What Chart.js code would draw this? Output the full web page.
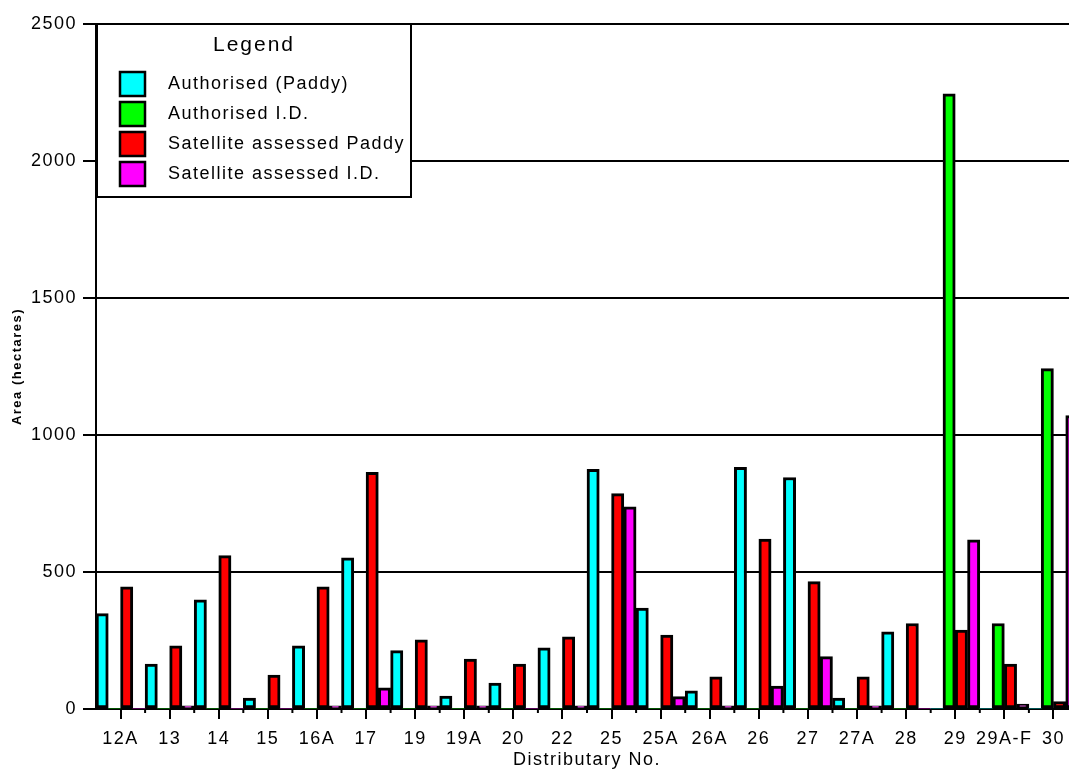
<!DOCTYPE html>
<html>
<head>
    <title>Area by distributary</title>
    <script src="https://cdn.jsdelivr.net/npm/chart.js"></script>
    <style>
        html, body { margin: 0; padding: 0; overflow: hidden; background: #fff; }
        #wrap { width: 1080px; height: 771px; }
    </style>
</head>
<body>
    <div id="wrap"><canvas id="areaChart"></canvas></div>

    <script>
        // Distributary numbers along the x axis
        const distributaries = ['12A', '13', '14', '15', '16A', '17', '19', '19A', '20', '22',
                                '25', '25A', '26A', '26', '27', '27A', '28', '29', '29A-F', '30'];

        // Areas in hectares
        const authorisedPaddy = [348, 164, 398, 40, 231, 552, 213, 47, 95, 223,
                                 875, 368, 66, 882, 845, 40, 282, 0, 0, 0];
        const authorisedID    = [0, 0, 0, 0, 0, 0, 0, 0, 0, 0,
                                 0, 0, 0, 0, 0, 0, 0, 2245, 312, 1242];
        const satellitePaddy  = [446, 231, 560, 124, 446, 864, 252, 182, 164, 263,
                                 786, 270, 117, 620, 465, 117, 312, 288, 164, 27];
        const satelliteID     = [0, 12, 0, 0, 12, 77, 12, 12, 0, 12,
                                 738, 45, 12, 84, 191, 12, 0, 617, 18, 1071];

        const yTicks = [0, 500, 1000, 1500, 2000, 2500];

        const fontFamily = '"Liberation Sans", Arial, sans-serif';

        // wider letter spacing, like the old chart renderer
        const spacingPlugin = {
            id: 'spacing',
            beforeDraw(chart) {
                chart.ctx.letterSpacing = '1.5px';
            }
        };

        // short ticks on the category boundaries
        const minorTicks = {
            id: 'minorTicks',
            afterDraw(chart) {
                const xs = chart.scales.x;
                const ctx = chart.ctx;
                ctx.save();
                ctx.strokeStyle = '#000';
                ctx.lineWidth = 2;
                for (let i = 1; i < distributaries.length; i++) {
                    const bx = (xs.getPixelForValue(i - 1) + xs.getPixelForValue(i)) / 2;
                    ctx.beginPath();
                    ctx.moveTo(bx, xs.top);
                    ctx.lineTo(bx, xs.top + 4);
                    ctx.stroke();
                }
                ctx.restore();
            }
        };

        // boxed legend sitting over the grid
        const legendBox = {
            id: 'legendBox',
            afterDraw(chart) {
                const ctx = chart.ctx;
                const left = chart.chartArea.left + 1;
                const top = chart.chartArea.top;
                ctx.save();
                ctx.fillStyle = '#fff';
                ctx.fillRect(left, top, 314, 173);
                ctx.strokeStyle = '#000';
                ctx.lineWidth = 2;
                ctx.strokeRect(left, top, 314, 173);

                ctx.letterSpacing = '2px';
                ctx.fillStyle = '#000';
                ctx.font = '21px ' + fontFamily;
                ctx.textAlign = 'center';
                ctx.textBaseline = 'alphabetic';
                ctx.fillText('Legend', left + 157, top + 27);

                ctx.letterSpacing = '1.5px';
                ctx.font = '18px ' + fontFamily;
                ctx.textAlign = 'left';
                chart.data.datasets.forEach((ds, i) => {
                    const rowTop = top + 48 + i * 30;
                    ctx.fillStyle = ds.backgroundColor;
                    ctx.fillRect(left + 23, rowTop, 25, 24);
                    ctx.lineWidth = 2.5;
                    ctx.strokeStyle = '#000';
                    ctx.strokeRect(left + 23, rowTop, 25, 24);
                    ctx.fillStyle = '#000';
                    ctx.fillText(ds.label, left + 71, rowTop + 17);
                });
                ctx.restore();
            }
        };

        function bars(label, data, colour) {
            return {
                label: label,
                data: data,
                backgroundColor: colour,
                borderColor: '#000',
                // no outline for empty bars
                borderWidth: c => (c.raw ? 3 : 0),
                borderSkipped: false,
                barPercentage: 1,
                categoryPercentage: 1
            };
        }

        const ctx = document.getElementById('areaChart').getContext('2d');
        const areaChart = new Chart(ctx, {
            type: 'bar',
            data: {
                labels: distributaries,
                datasets: [
                    bars('Authorised (Paddy)', authorisedPaddy, '#00ffff'),
                    bars('Authorised I.D.', authorisedID, '#00ff00'),
                    bars('Satellite assessed Paddy', satellitePaddy, '#ff0000'),
                    bars('Satellite assessed I.D.', satelliteID, '#ff00ff')
                ]
            },
            options: {
                responsive: true,
                maintainAspectRatio: false,
                animation: false,
                layout: { padding: { top: 24, right: 2, left: 0, bottom: 0 } },
                plugins: {
                    legend: { display: false },
                    tooltip: { enabled: false }
                },
                scales: {
                    x: {
                        grid: {
                            offset: false,
                            drawOnChartArea: false,
                            color: '#000',
                            lineWidth: 2,
                            tickLength: 10
                        },
                        border: { display: true, color: '#000', width: 2 },
                        ticks: {
                            color: '#000',
                            font: { family: fontFamily, size: 18 },
                            padding: 9,
                            maxRotation: 0,
                            autoSkip: false
                        },
                        title: {
                            display: true,
                            text: 'Distributary No.',
                            color: '#000',
                            font: { family: fontFamily, size: 18 },
                            padding: 0
                        },
                        afterFit(scale) { scale.height = 62; }
                    },
                    y: {
                        min: yTicks[0],
                        max: yTicks[yTicks.length - 1],
                        afterBuildTicks(scale) {
                            scale.ticks = yTicks.map(v => ({ value: v }));
                        },
                        grid: {
                            color: '#000',
                            lineWidth: 2,
                            tickLength: 13
                        },
                        border: { display: true, color: '#000', width: 2 },
                        ticks: {
                            color: '#000',
                            font: { family: fontFamily, size: 18 },
                            padding: 6,
                            callback: v => String(v)
                        },
                        title: {
                            display: true,
                            text: 'Area (hectares)',
                            color: '#000',
                            font: { family: fontFamily, size: 13, weight: 'bold' },
                            padding: { top: 10, bottom: 0 }
                        },
                        afterFit(scale) { scale.width = 96; }
                    }
                }
            },
            plugins: [spacingPlugin, minorTicks, legendBox]
        });
    </script>
</body>
</html>
